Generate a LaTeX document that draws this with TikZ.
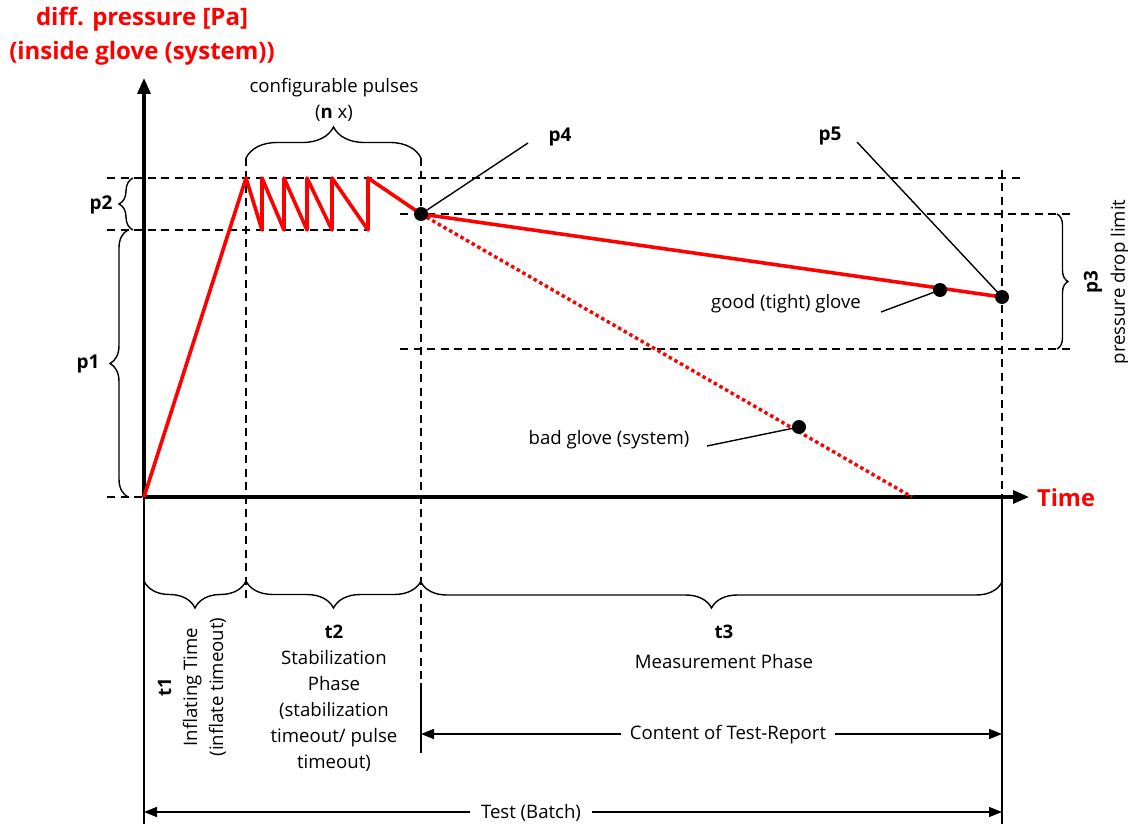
\documentclass[tikz,border=0pt]{standalone}
\usepackage{fontspec}
\setmainfont{Open Sans}
\usetikzlibrary{arrows.meta,decorations.pathreplacing}
\definecolor{myred}{RGB}{255,0,0}
\begin{document}
\begin{tikzpicture}[x=1pt,y=-1pt,
 lbl/.style={font=\fontsize{18.6}{26}\selectfont, inner sep=0, align=center},
 blbl/.style={font=\fontsize{19}{22}\selectfont\bfseries, inner sep=0},
 title/.style={font=\fontsize{24}{34}\selectfont\bfseries, text=myred, inner sep=0, align=center},
 axisline/.style={line width=3.2pt, -{Triangle[length=16pt,width=13pt]}},
 guide/.style={dash pattern=on 8pt off 5.5pt, line width=1.6pt},
 thinline/.style={line width=1.4pt},
 curve/.style={myred, line width=3.6pt, line join=round},
 dotline/.style={myred, line width=3.4pt, dash pattern=on 3.5pt off 3pt},
 dot/.style={circle, fill=black, minimum size=14pt, inner sep=0},
 brc/.style={decorate, decoration={brace, amplitude=#1}, line width=1.4pt},
 dimline/.style={line width=1.7pt, {Triangle[length=13pt,width=10pt]}-{Triangle[length=13pt,width=10pt]}},
 solidv/.style={line width=1.7pt},
]
\useasboundingbox (0,0) rectangle (1128,824);

% named coordinates
\coordinate (O) at (144,497);
\coordinate (ytop) at (144,78);
\coordinate (xend) at (1029,497);
\coordinate (ybot) at (144,824);
\coordinate (rbot) at (1002,824);

% title
\node[title] (ttl) at (142,36) {diff. pressure [Pa]\\(inside glove (system))};
\node[font=\fontsize{23.5}{26}\selectfont\bfseries, text=myred, inner sep=0, anchor=west] (time) at (1037,498) {Time};

% dashed guide lines
\draw[guide] (107,178) -- (1022,178);
\draw[guide] (107,230) -- (368,230);
\draw[guide] (107,497) -- (O);
\draw[guide] (400,214) -- (1070,214);
\draw[guide] (400,349) -- (1070,349);
\draw[guide] (246,158) -- (246,602);
\draw[guide] (421,158) -- (421,683);
\draw[guide] (1002,170) -- (1002,497);

% solid verticals
\draw[solidv] (O) -- (ybot);
\draw[solidv] (1002,497) -- (rbot);
\draw[solidv] (421,683) -- (421,753);

% axes
\draw[axisline] (O) -- (ytop);
\draw[axisline] (O) -- (xend);

% curve
\coordinate (c1) at (246,178);
\coordinate (p4) at (421,214);
\coordinate (p5) at (1002,297);
\coordinate (bend) at (912,497);
\draw[dotline] (p4) -- (bend);
\draw[curve] (O) -- (c1) -- (262,230) -- (262,178) -- (284,230) -- (284,178) -- (307,230) -- (307,178)
  -- (332,230) -- (332,178) -- (368,230) -- (368,178) -- (p4) -- (p5);

% dots
\node[dot] (d4) at (p4) {};
\node[dot] (d5) at (p5) {};
\node[dot] (dgood) at (940,290) {};
\node[dot] (dbad) at (799,427) {};

% leaders
\coordinate (l4) at (528,143);
\coordinate (l5) at (857,142);
\coordinate (lg) at (881,312);
\coordinate (lb) at (707,446);
\draw[thinline] (d4.center) -- (l4);
\draw[thinline] (d5.center) -- (l5);
\draw[thinline] (dgood.center) -- (lg);
\draw[thinline] (dbad.center) -- (lb);

\node[blbl] (lp4) at (560,137) {p4};
\node[blbl] (lp5) at (830,136) {p5};
\node[lbl] (good) at (786,304) {good (tight) glove};
\node[lbl] (bad) at (609,440) {bad glove (system)};

% braces left
\draw[brc=14pt] (133,230) -- (133,178);
\draw[brc=18pt] (128,497) -- (128,230);
\node[blbl] (lp2) at (101,205) {p2};
\node[blbl] (lp1) at (88,364) {p1};

% brace right
\draw[brc=11pt] (1057,214) -- (1057,349);
\node[blbl, rotate=90] (lp3) at (1093,282) {p3};
\node[lbl, rotate=90] (pdl) at (1120,282) {pressure drop limit};

% brace top
\draw[brc=31pt] (246,158) -- (421,158);
\node[lbl] (cp) at (334,88) {configurable pulses};
\node[lbl] (nx) at (334,113) {(\textbf{n} x)};

% bottom braces
\draw[brc=27pt] (246,581) -- (144,581);
\draw[brc=27pt] (421,581) -- (246,581);
\draw[brc=26pt] (1002,582) -- (421,582);

\node[lbl, rotate=90] (t1) at (192,687) {\textbf{t1}\\Inflating Time\\(inflate timeout)};
\node[lbl] (t2) at (334,698) {\textbf{t2}\\Stabilization\\Phase\\(stabilization\\timeout/ pulse\\timeout)};
\node[lbl, font=\fontsize{18.6}{30}\selectfont] (t3) at (724,647) {\textbf{t3}\\Measurement Phase};

% dimension lines
\coordinate (ca) at (421,734);
\coordinate (cb) at (1002,734);
\draw[dimline] (ca) -- (cb);
\node[lbl, fill=white, inner xsep=9pt, inner ysep=2pt] (ctr) at (728,735) {Content of Test-Report};
\coordinate (ta) at (144,812);
\coordinate (tb) at (1002,812);
\draw[dimline] (ta) -- (tb);
\node[lbl, fill=white, inner xsep=11pt, inner ysep=2pt] (tbt) at (531,813) {Test (Batch)};
\end{tikzpicture}
\end{document}
